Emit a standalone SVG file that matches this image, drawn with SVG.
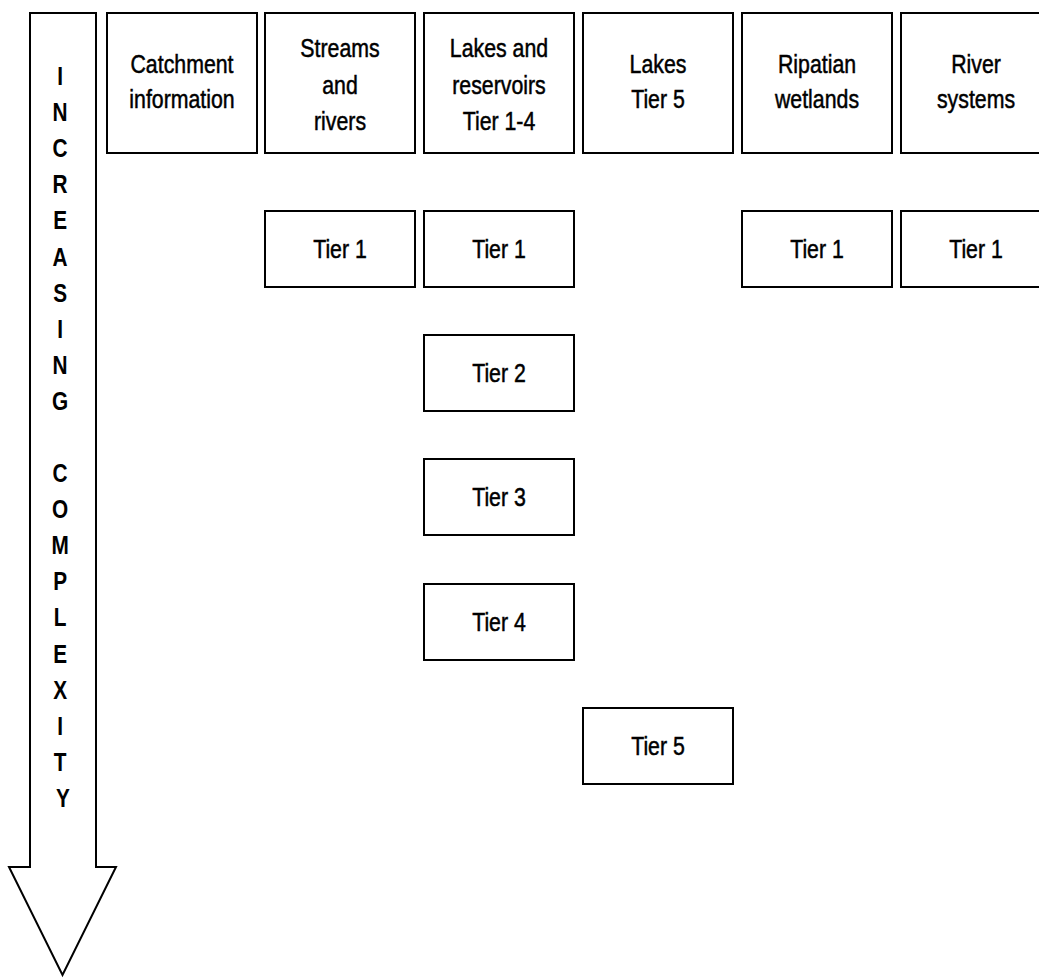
<svg xmlns="http://www.w3.org/2000/svg" width="1039" height="978" viewBox="0 0 1039 978">
<style>
.box{fill:#fff;stroke:#000;stroke-width:2}
.t{font-family:"Liberation Sans",Arial,sans-serif;font-size:26px;fill:#000;stroke:#000;stroke-width:0.5;text-anchor:middle}
.a{font-family:"Liberation Sans",Arial,sans-serif;font-size:26px;font-weight:bold;fill:#000;text-anchor:middle}
</style>
<rect width="1039" height="978" fill="#fff"/>
<g id="arrow">
<path class="box" d="M30 13 L96 13 L96 867 L116 867 L62.5 975 L9 867 L30 867 Z"/>
<text class="a" transform="translate(63 0) scale(0.8 1)">
<tspan x="0" y="85">I</tspan>
<tspan x="0" y="121">N</tspan>
<tspan x="0" y="157">C</tspan>
<tspan x="0" y="193">R</tspan>
<tspan x="0" y="229">E</tspan>
<tspan x="0" y="266">A</tspan>
<tspan x="0" y="302">S</tspan>
<tspan x="0" y="338">I</tspan>
<tspan x="0" y="374">N</tspan>
<tspan x="0" y="410">G</tspan>
<tspan x="0" y="482">C</tspan>
<tspan x="0" y="518">O</tspan>
<tspan x="0" y="554">M</tspan>
<tspan x="0" y="590">P</tspan>
<tspan x="0" y="626">L</tspan>
<tspan x="0" y="663">E</tspan>
<tspan x="0" y="699">X</tspan>
<tspan x="0" y="735">I</tspan>
<tspan x="0" y="771">T</tspan>
<tspan x="0" y="807">Y</tspan>
</text>
</g>
<g id="catchment">
<rect class="box" x="107" y="13" width="150" height="140"/>
<text class="t" transform="translate(182 0) scale(0.82 1)"><tspan x="0" y="73">Catchment</tspan><tspan x="0" y="108">information</tspan></text>
</g>
<g id="streams">
<rect class="box" x="265" y="13" width="150" height="140"/>
<text class="t" transform="translate(340 0) scale(0.82 1)"><tspan x="0" y="57">Streams</tspan><tspan x="0" y="94">and</tspan><tspan x="0" y="130">rivers</tspan></text>
</g>
<g id="lakes-reservoirs">
<rect class="box" x="424" y="13" width="150" height="140"/>
<text class="t" transform="translate(499 0) scale(0.82 1)"><tspan x="0" y="57">Lakes and</tspan><tspan x="0" y="94">reservoirs</tspan><tspan x="0" y="130">Tier 1-4</tspan></text>
</g>
<g id="lakes-tier5">
<rect class="box" x="583" y="13" width="150" height="140"/>
<text class="t" transform="translate(658 0) scale(0.82 1)"><tspan x="0" y="73">Lakes</tspan><tspan x="0" y="108">Tier 5</tspan></text>
</g>
<g id="ripatian">
<rect class="box" x="742" y="13" width="150" height="140"/>
<text class="t" transform="translate(817 0) scale(0.82 1)"><tspan x="0" y="73">Ripatian</tspan><tspan x="0" y="108">wetlands</tspan></text>
</g>
<g id="river-systems">
<rect class="box" x="901" y="13" width="150" height="140"/>
<text class="t" transform="translate(976 0) scale(0.82 1)"><tspan x="0" y="73">River</tspan><tspan x="0" y="108">systems</tspan></text>
</g>
<g id="streams-tier1">
<rect class="box" x="265" y="211" width="150" height="76"/>
<text class="t" transform="translate(340 0) scale(0.82 1)" x="0" y="258">Tier 1</text>
</g>
<g id="lakes-tier1">
<rect class="box" x="424" y="211" width="150" height="76"/>
<text class="t" transform="translate(499 0) scale(0.82 1)" x="0" y="258">Tier 1</text>
</g>
<g id="ripatian-tier1">
<rect class="box" x="742" y="211" width="150" height="76"/>
<text class="t" transform="translate(817 0) scale(0.82 1)" x="0" y="258">Tier 1</text>
</g>
<g id="river-tier1">
<rect class="box" x="901" y="211" width="150" height="76"/>
<text class="t" transform="translate(976 0) scale(0.82 1)" x="0" y="258">Tier 1</text>
</g>
<g id="lakes-tier2">
<rect class="box" x="424" y="335" width="150" height="76"/>
<text class="t" transform="translate(499 0) scale(0.82 1)" x="0" y="382">Tier 2</text>
</g>
<g id="lakes-tier3">
<rect class="box" x="424" y="459" width="150" height="76"/>
<text class="t" transform="translate(499 0) scale(0.82 1)" x="0" y="506">Tier 3</text>
</g>
<g id="lakes-tier4">
<rect class="box" x="424" y="584" width="150" height="76"/>
<text class="t" transform="translate(499 0) scale(0.82 1)" x="0" y="631">Tier 4</text>
</g>
<g id="lakes-tier5-box">
<rect class="box" x="583" y="708" width="150" height="76"/>
<text class="t" transform="translate(658 0) scale(0.82 1)" x="0" y="755">Tier 5</text>
</g>
<g id="connectors"></g>
</svg>
